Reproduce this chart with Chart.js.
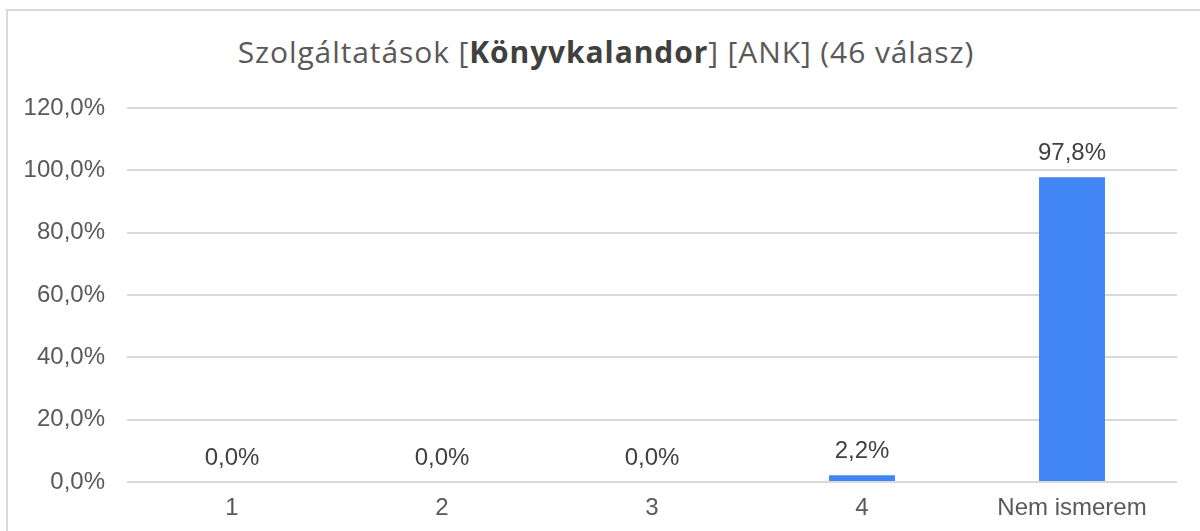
<!DOCTYPE html>
<html>
<head>
<meta charset="utf-8">
<script src="https://cdn.jsdelivr.net/npm/chart.js@4"></script>
<style>
  html, body { margin: 0; padding: 0; background: #fff; overflow: hidden; }
  #frame {
    position: absolute; left: 6px; top: 9px; width: 1210px; height: 540px;
    border-left: 2px solid #d9d9d9; border-top: 2px solid #d9d9d9;
  }
  #title {
    position: absolute; left: 0; top: 31px; width: 1212px; text-align: center;
    font-family: "Open Sans", sans-serif; font-size: 30px; color: #595959;
    letter-spacing: 0.9px; white-space: nowrap;
  }
  #title b { color: #404040; }
  #wrap { position: absolute; left: 0; top: 0; width: 1200px; height: 531px; }
</style>
</head>
<body>
<div id="frame"></div>
<div id="title">Szolgáltatások [<b>Könyvkalandor</b>] [ANK] (46 válasz)</div>
<div id="wrap"><canvas id="chart" width="1200" height="531"></canvas></div>
<script>
// Categories and shares (fraction of 46 answers)
const categories = ["1", "2", "3", "4", "Nem ismerem"];
const shares = [0, 0, 0, 0.022, 0.978];
const yTicks = [0, 0.2, 0.4, 0.6, 0.8, 1.0, 1.2];

const pct = (v) => (v * 100).toFixed(1).replace(".", ",") + "%";

// Draw the value above every bar
const valueLabels = {
  id: "valueLabels",
  afterDatasetsDraw(chart) {
    const ctx = chart.ctx;
    const meta = chart.getDatasetMeta(0);
    ctx.save();
    ctx.font = "24px 'Liberation Sans', Arial, sans-serif";
    ctx.fillStyle = "#404040";
    ctx.textAlign = "center";
    ctx.textBaseline = "middle";
    meta.data.forEach((bar, i) => {
      ctx.fillText(pct(shares[i]), bar.x, bar.y - 24);
    });
    ctx.restore();
  },
};

new Chart(document.getElementById("chart").getContext("2d"), {
  type: "bar",
  data: {
    labels: categories,
    datasets: [
      {
        data: shares,
        backgroundColor: "#4285f4",
        categoryPercentage: 1,
        barPercentage: 0.314,
      },
    ],
  },
  options: {
    responsive: false,
    animation: false,
    layout: { padding: { top: 108, right: 23, left: 0, bottom: 0 } },
    plugins: { legend: { display: false }, tooltip: { enabled: false } },
    scales: {
      y: {
        min: 0,
        max: 1.2,
        afterFit: (s) => { s.width = 127; },
        afterBuildTicks: (s) => { s.ticks = yTicks.map((v) => ({ value: v })); },
        border: { display: false },
        grid: { color: "#d9d9d9", lineWidth: 2, drawTicks: false },
        ticks: {
          padding: 22,
          color: "#595959",
          font: { family: "'Liberation Sans', Arial, sans-serif", size: 24 },
          callback: (v) => pct(v),
        },
      },
      x: {
        afterFit: (s) => { s.height = 49; },
        border: { display: false },
        grid: { display: false, drawTicks: false },
        ticks: {
          padding: 12,
          color: "#595959",
          font: { family: "'Liberation Sans', Arial, sans-serif", size: 24 },
        },
      },
    },
  },
  plugins: [valueLabels],
});
</script>
</body>
</html>
